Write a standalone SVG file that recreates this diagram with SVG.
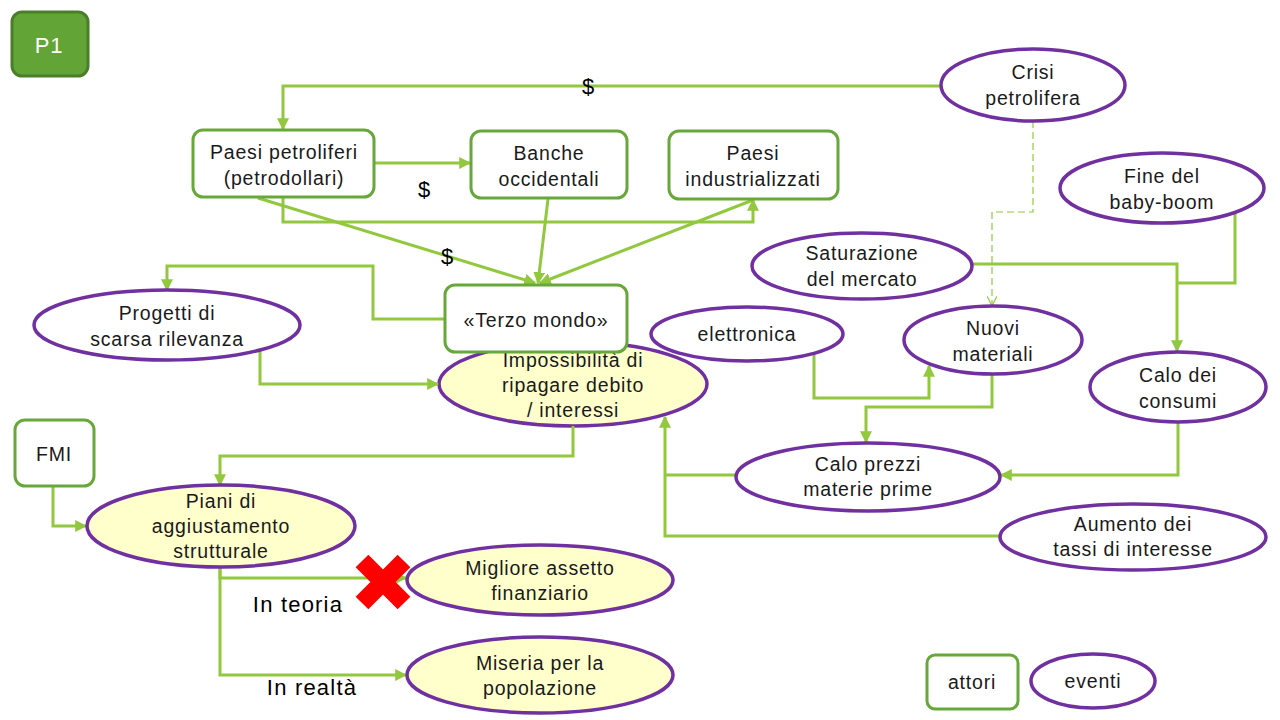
<svg xmlns="http://www.w3.org/2000/svg" width="1280" height="720" viewBox="0 0 1280 720">
<defs>
<marker id="ah" viewBox="0 0 10 10" refX="9" refY="5" markerWidth="4" markerHeight="4" orient="auto" markerUnits="strokeWidth">
<path d="M0,0 L10,5 L0,10 z" fill="#92c83e"/>
</marker>
<marker id="oh" viewBox="0 0 10 10" refX="9" refY="5" markerWidth="8" markerHeight="8" orient="auto" markerUnits="strokeWidth">
<path d="M0,0 L10,5 L0,10" fill="none" stroke="#92c83e" stroke-width="1.2"/>
</marker>
<style>
.a{fill:#fff;stroke:#66a83a;stroke-width:3}
.e{fill:#fff;stroke:#7030a0;stroke-width:3.5}
.y{fill:#ffffcc;stroke:#7030a0;stroke-width:3.5}
.t{font-family:"Liberation Sans",Arial,sans-serif;font-size:19.5px;letter-spacing:0.8px;fill:#1a1a1a;text-anchor:middle}
.c{fill:none;stroke:#92c83e;stroke-width:3;marker-end:url(#ah)}
.n{fill:none;stroke:#92c83e;stroke-width:3}
.l{font-family:"Liberation Sans",Arial,sans-serif;font-size:22px;fill:#000;text-anchor:middle}
.w{letter-spacing:1.2px}
</style>
</defs>
<rect width="1280" height="720" fill="#fff"/>

<g id="p1">
<rect x="12" y="12" width="76" height="64" rx="10" fill="#62a536" stroke="#4b7e2b" stroke-width="3"/>
<text x="49" y="53" class="t" style="fill:#fff;font-size:22px">P1</text>
</g>

<g id="impossibilita">
<ellipse cx="573" cy="384" rx="134" ry="42" class="y"/>
<text class="t" x="573" y="367">Impossibilità di</text>
<text class="t" x="573" y="392">ripagare debito</text>
<text class="t" x="573" y="417">/ interessi</text>
</g>

<g id="connectors">
<polyline class="c" points="940,86 283,86 283,129"/>
<polyline class="c" points="374,163 470,163"/>
<polyline class="c" points="283,198 283,222 753,222 753,200"/>
<line class="c" x1="258" y1="198" x2="535" y2="283"/>
<line class="c" x1="548" y1="199" x2="538" y2="283"/>
<line class="c" x1="753" y1="200" x2="540" y2="283"/>
<polyline class="c" points="445,319 373,319 373,266 167,266 167,290"/>
<polyline class="c" points="260,351 260,384 438,384"/>
<polyline class="c" points="573,426 573,456 220,456 220,485"/>
<polyline class="c" points="53,487 53,526 86,526"/>
<polyline class="c" points="220,568 220,578 406,578"/>
<polyline class="c" points="220,568 220,675 406,675"/>
<polyline points="1033,121 1033,212 992,212 992,305" fill="none" stroke="#92c83e" stroke-width="1.2" stroke-dasharray="7,4" marker-end="url(#oh)"/>
<polyline class="c" points="972,264 1177,264 1177,351"/>
<polyline class="n" points="1235,213 1235,283 1177,283"/>
<polyline class="c" points="814,352 814,398 929,398 929,366"/>
<polyline class="c" points="992,375 992,407 866,407 866,442"/>
<polyline class="c" points="1178,422 1178,475 1001,475"/>
<polyline class="n" points="736,475 665,475"/>
<polyline class="c" points="1000,536 665,536 665,417"/>
</g>

<g id="labels">
<text class="l" x="588" y="94">$</text>
<text class="l" x="424" y="197">$</text>
<text class="l" x="447" y="264">$</text>
<text class="l w" x="298" y="612">In teoria</text>
<text class="l w" x="312" y="695">In realtà</text>
</g>

<g id="paesi-petroliferi">
<rect x="193" y="130" width="181" height="67" rx="10" class="a"/>
<text class="t" x="284" y="159">Paesi petroliferi</text>
<text class="t" x="284" y="185">(petrodollari)</text>
</g>
<g id="banche">
<rect x="471" y="131" width="156" height="67" rx="10" class="a"/>
<text class="t" x="549" y="160">Banche</text>
<text class="t" x="549" y="186">occidentali</text>
</g>
<g id="paesi-industrializzati">
<rect x="669" y="131" width="169" height="68" rx="10" class="a"/>
<text class="t" x="753" y="160">Paesi</text>
<text class="t" x="753" y="186">industrializzati</text>
</g>
<g id="crisi">
<ellipse cx="1033" cy="85" rx="92" ry="36" class="e"/>
<text class="t" x="1033" y="79">Crisi</text>
<text class="t" x="1033" y="105">petrolifera</text>
</g>
<g id="terzo-mondo">
<rect x="445" y="285" width="182" height="67" rx="10" class="a"/>
<text class="t" x="536" y="327">«Terzo mondo»</text>
</g>
<g id="progetti">
<ellipse cx="167" cy="325" rx="133" ry="35" class="e"/>
<text class="t" x="167" y="320">Progetti di</text>
<text class="t" x="167" y="346">scarsa rilevanza</text>
</g>
<g id="saturazione">
<ellipse cx="862" cy="266" rx="110" ry="33" class="e"/>
<text class="t" x="862" y="260">Saturazione</text>
<text class="t" x="862" y="286">del mercato</text>
</g>
<g id="fine-baby-boom">
<ellipse cx="1162" cy="188" rx="102" ry="35" class="e"/>
<text class="t" x="1162" y="183">Fine del</text>
<text class="t" x="1162" y="209">baby-boom</text>
</g>
<g id="elettronica">
<ellipse cx="747" cy="334" rx="96" ry="27" class="e"/>
<text class="t" x="747" y="341">elettronica</text>
</g>
<g id="nuovi-materiali">
<ellipse cx="993" cy="340" rx="89" ry="34" class="e"/>
<text class="t" x="993" y="335">Nuovi</text>
<text class="t" x="993" y="361">materiali</text>
</g>
<g id="calo-consumi">
<ellipse cx="1178" cy="387" rx="88" ry="35" class="e"/>
<text class="t" x="1178" y="382">Calo dei</text>
<text class="t" x="1178" y="408">consumi</text>
</g>
<g id="calo-prezzi">
<ellipse cx="868" cy="477" rx="132" ry="34" class="e"/>
<text class="t" x="868" y="471">Calo prezzi</text>
<text class="t" x="868" y="496">materie prime</text>
</g>
<g id="aumento-tassi">
<ellipse cx="1133" cy="537" rx="133" ry="33" class="e"/>
<text class="t" x="1133" y="531">Aumento dei</text>
<text class="t" x="1133" y="556">tassi di interesse</text>
</g>
<g id="fmi">
<rect x="15" y="420" width="79" height="66" rx="10" class="a"/>
<text class="t" x="54" y="461">FMI</text>
</g>
<g id="piani">
<ellipse cx="221" cy="526" rx="134" ry="41" class="y"/>
<text class="t" x="221" y="508">Piani di</text>
<text class="t" x="221" y="533">aggiustamento</text>
<text class="t" x="221" y="558">strutturale</text>
</g>
<g id="migliore">
<ellipse cx="540" cy="580" rx="133" ry="35" class="y"/>
<text class="t" x="540" y="575">Migliore assetto</text>
<text class="t" x="540" y="600">finanziario</text>
</g>
<g id="miseria">
<ellipse cx="540" cy="675" rx="133" ry="38" class="y"/>
<text class="t" x="540" y="670">Miseria per la</text>
<text class="t" x="540" y="695">popolazione</text>
</g>
<g id="red-x">
<path d="M383,582 L362,561 M383,582 L404,561 M383,582 L362,603 M383,582 L404,603" stroke="#ff0000" stroke-width="18" fill="none"/>
</g>
<g id="legenda">
<rect x="927" y="655" width="91" height="54" rx="8" class="a"/>
<text class="t" x="972" y="689">attori</text>
<ellipse cx="1093" cy="681" rx="62" ry="27" class="e"/>
<text class="t" x="1093" y="688">eventi</text>
</g>
</svg>
